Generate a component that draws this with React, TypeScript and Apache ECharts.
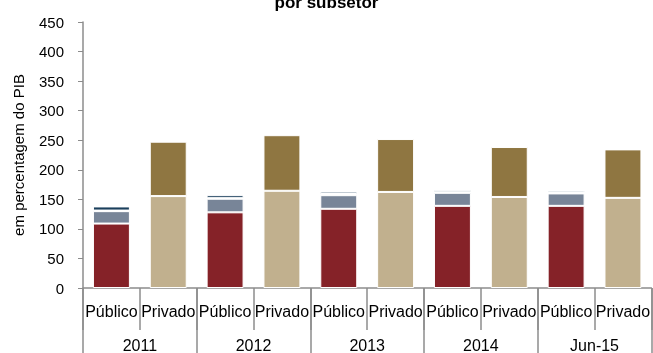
import React, { useEffect, useRef } from "react";
import * as echarts from "echarts";

const subsectors = ["Público", "Privado", "Público", "Privado", "Público", "Privado", "Público", "Privado", "Público", "Privado"];
const years = ["2011", "2012", "2013", "2014", "Jun-15"];
const yTicks = { min: 0, max: 450, interval: 50 };

// Público components (per year)
const pubRed = [109, 128, 134, 139, 139];
const pubGray = [21, 23, 23, 22, 21];
const pubLight = [1, 1, 2, 2, 2];
const pubNavy = [7, 5, 4, 3, 3];
// Privado components (per year)
const privTan = [155.5, 164.5, 162.5, 154, 152.5];
const privBrown = [92, 94, 89.5, 84.5, 82];

const FONT = "'Liberation Sans', Arial, sans-serif";

function onPub(vals: number[]) {
  const out: (number | string)[] = [];
  vals.forEach((v) => { out.push(v); out.push("-"); });
  return out;
}
function onPriv(vals: number[]) {
  const out: (number | string)[] = [];
  vals.forEach((v) => { out.push("-"); out.push(v); });
  return out;
}

export default function App() {
  const ref = useRef<HTMLDivElement>(null);
  useEffect(() => {
    if (!ref.current) return;
    const chart = echarts.init(ref.current, undefined, { renderer: "svg" });
    const mk = (name: string, data: (number | string)[], color: string) => ({
      name,
      type: "bar",
      stack: "all",
      data,
      barWidth: "65%",
      itemStyle: { color, borderColor: "#ffffff", borderWidth: 1 },
    });
    chart.setOption({
      animation: false,
      title: {
        text: "por subsetor",
        left: "center",
        top: -11,
        textStyle: { fontFamily: FONT, fontSize: 17, fontWeight: "bold", color: "#000" },
      },
      grid: { left: 83, right: 0, top: 22, bottom: 65 },
      xAxis: [
        {
          type: "category",
          data: subsectors,
          position: "bottom",
          axisLine: { lineStyle: { color: "#8c8c8c", width: 1.5 } },
          axisTick: { show: true, length: 42, lineStyle: { color: "#8c8c8c", width: 1.5 } },
          axisLabel: { margin: 15, fontFamily: FONT, fontSize: 16, color: "#000", interval: 0 },
        },
        {
          type: "category",
          data: years,
          position: "bottom",
          axisLine: { show: false },
          axisTick: { show: true, length: 70, lineStyle: { color: "#8c8c8c", width: 1.5 } },
          axisLabel: { margin: 49, fontFamily: FONT, fontSize: 16, color: "#000", interval: 0 },
        },
      ],
      yAxis: {
        type: "value",
        min: yTicks.min,
        max: yTicks.max,
        interval: yTicks.interval,
        name: "em percentagem do PIB",
        nameLocation: "middle",
        nameGap: 57,
        nameTextStyle: { fontFamily: FONT, fontSize: 15, color: "#000" },
        axisLine: { show: true, lineStyle: { color: "#8c8c8c", width: 1.5 } },
        axisTick: { show: true, length: 5, lineStyle: { color: "#8c8c8c" } },
        splitLine: { show: false },
        axisLabel: { margin: 19, fontFamily: FONT, fontSize: 15, color: "#000" },
      },
      series: [
        mk("Público 1", onPub(pubRed), "#852228"),
        mk("Público 2", onPub(pubGray), "#788598"),
        mk("Público 3", onPub(pubLight), "#b4c2d2"),
        mk("Público 4", onPub(pubNavy), "#1b3f5c"),
        mk("Privado 1", onPriv(privTan), "#c1b08e"),
        mk("Privado 2", onPriv(privBrown), "#8f7641"),
      ],
    });
    return () => chart.dispose();
  }, []);
  return <div ref={ref} style={{ position: "fixed", left: 0, top: 0, width: 653, height: 353 }} />;
}
